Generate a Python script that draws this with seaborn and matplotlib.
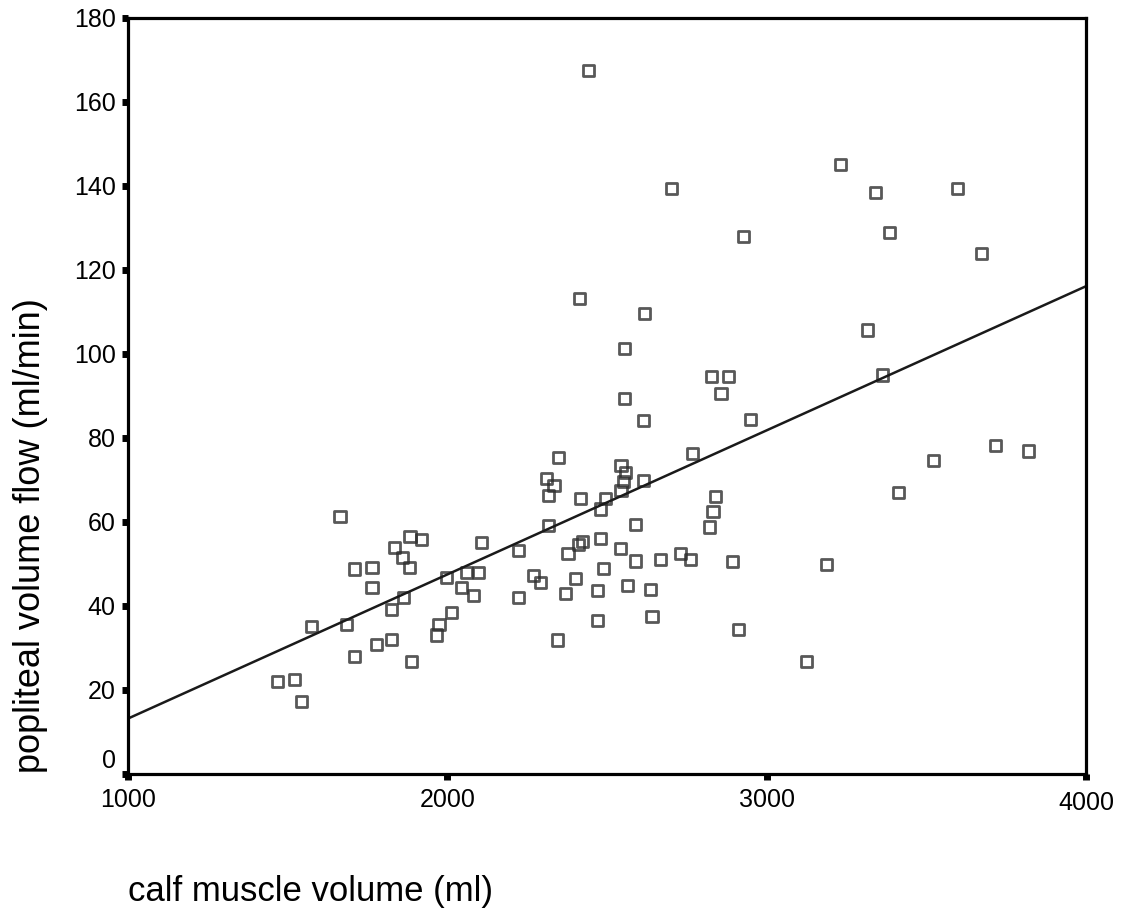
import numpy as np
import pandas as pd
import seaborn as sns
import matplotlib.pyplot as plt
import matplotlib.transforms as mtransforms

# calf muscle volume (ml) / popliteal volume flow (ml/min)
calf_volume = [
    2441, 2703, 3232, 3340, 3597, 2928, 3386, 3673, 2415, 2617,
    3315, 2555, 3362, 2826, 2881, 2857, 2555, 2949, 2615, 2769,
    2349, 3717, 3819, 3523, 3413, 1664, 2311, 2334, 2318, 2544,
    2558, 2553, 2544, 2615, 2417, 2496, 2479, 2839, 2832, 2821,
    2318, 2589, 2224, 2422, 2412, 2378, 2479, 2542, 2589, 2667,
    2730, 2761, 2893, 2488, 2271, 2293, 2402, 2222, 2370, 2469,
    2565, 2636, 2469, 2641, 2346, 2913, 3188, 3124, 1883, 1920,
    1835, 2107, 1859, 1882, 1710, 1764, 1764, 1997, 2060, 2099,
    2044, 2083, 1864, 1826, 1576, 1685, 2013, 1974, 1966, 1779,
    1826, 1709, 1887, 1468, 1522, 1543,
]
popliteal_flow = [
    167.4, 139.3, 145.1, 138.5, 139.5, 127.9, 128.9, 124.0, 113.3, 109.7,
    105.7, 101.3, 95.0, 94.6, 94.6, 90.5, 89.4, 84.5, 84.1, 76.4,
    75.3, 78.3, 76.9, 74.6, 67.0, 61.3, 70.4, 68.6, 66.2, 73.4,
    71.7, 69.6, 67.5, 69.8, 65.5, 65.5, 63.1, 66.0, 62.4, 58.8,
    59.2, 59.5, 53.3, 55.3, 54.6, 52.5, 56.1, 53.6, 50.7, 51.1,
    52.4, 51.1, 50.5, 48.9, 47.3, 45.5, 46.6, 42.0, 43.0, 43.6,
    44.8, 44.0, 36.5, 37.4, 31.9, 34.4, 49.8, 26.7, 56.5, 55.9,
    53.9, 55.2, 51.6, 49.2, 48.8, 49.2, 44.5, 46.8, 48.0, 48.0,
    44.5, 42.5, 42.1, 39.2, 35.2, 35.6, 38.5, 35.5, 33.1, 30.8,
    32.1, 28.0, 26.7, 22.1, 22.6, 17.3,
]
x_ticks = [1000, 2000, 3000, 4000]
y_ticks = [0, 20, 40, 60, 80, 100, 120, 140, 160, 180]

df = pd.DataFrame({'calf': calf_volume, 'flow': popliteal_flow})

sns.set_style('ticks')
plt.rcParams['font.family'] = ['Liberation Sans', 'DejaVu Sans']
for key in ['text.color', 'axes.labelcolor', 'xtick.color', 'ytick.color']:
    plt.rcParams[key] = 'black'

fig = plt.figure(figsize=(11.23, 9.08), dpi=100)
ax = fig.add_axes([0.114, 0.1476, 0.853, 0.8326])
ax.set_xlim(1000, 4000)
ax.set_ylim(0, 180)

# scatter + least squares line over the whole x range
sns.regplot(data=df, x='calf', y='flow', ax=ax, ci=None, truncate=False,
            marker='s',
            scatter_kws=dict(facecolors='none', edgecolors='#2e2e2e', s=64, linewidths=2.0),
            line_kws=dict(color='#1a1a1a', lw=1.8))

ax.set_xlim(1000, 4000)
ax.set_ylim(0, 180)
ax.set_xticks(x_ticks)
ax.set_yticks(y_ticks)
ax.tick_params(direction='out', length=4, width=5, labelsize=18, color='black')
ax.tick_params(axis='x', pad=6)
ax.tick_params(axis='y', pad=5)

for side in ['left', 'right', 'top', 'bottom']:
    ax.spines[side].set_visible(True)
    ax.spines[side].set_linewidth(2.3)
    ax.spines[side].set_color('black')

# corner labels sit a bit off their ticks in the original
def shift(label, dx, dy):
    off = mtransforms.ScaledTranslation(dx / 72, dy / 72, fig.dpi_scale_trans)
    label.set_transform(label.get_transform() + off)

shift(ax.get_yticklabels()[0], 0, 11)
shift(ax.get_xticklabels()[-1], 0, -2)

ax.set_xlabel('calf muscle volume (ml)', fontsize=25, ha='left', va='top')
ax.xaxis.set_label_coords(0.0, -0.134)
ax.set_ylabel('popliteal volume flow (ml/min)', fontsize=26, va='center')
ax.yaxis.set_label_coords(-0.102, 0.315)

plt.savefig('out.png', dpi=100)
